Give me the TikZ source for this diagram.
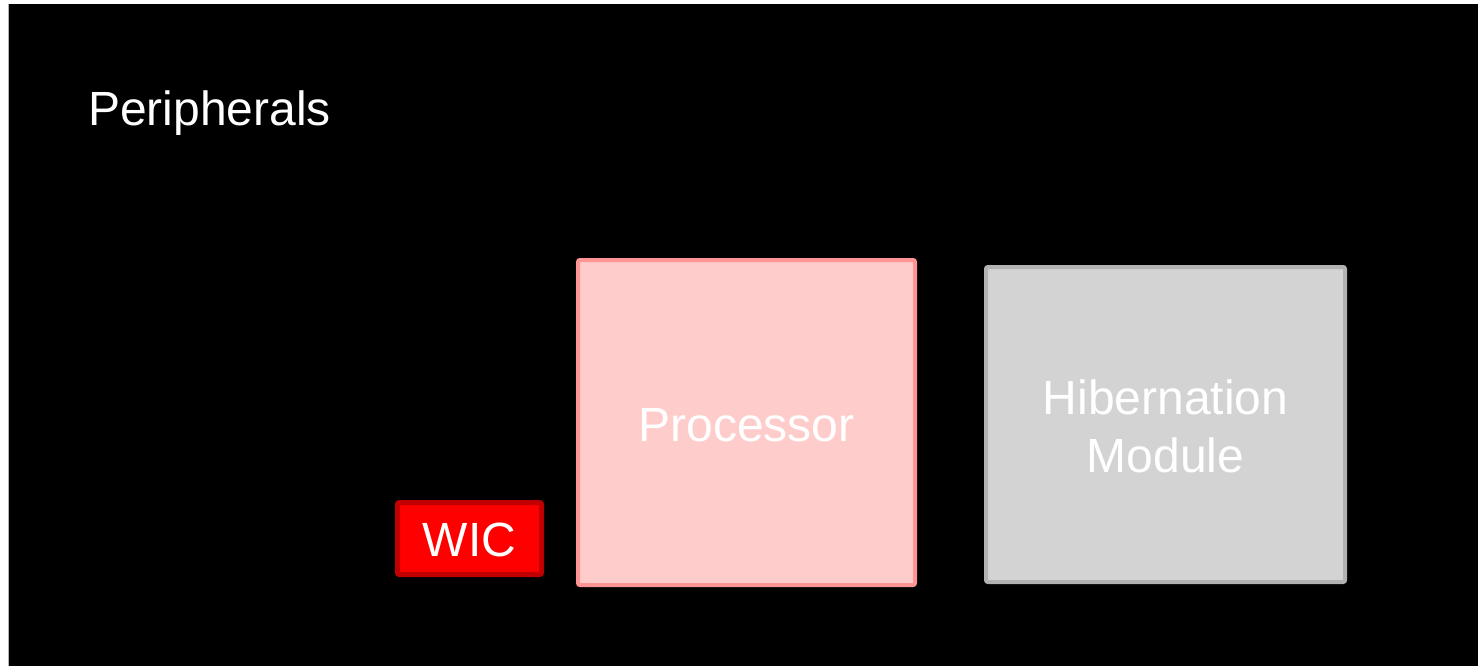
\documentclass[tikz,border=0pt]{standalone}
\usepackage{fontspec}
\setmainfont{Liberation Sans}
\begin{document}
\begin{tikzpicture}[x=1pt,y=-1pt,
  label/.style={font=\fontsize{48}{58}\selectfont, text=white, align=center, inner sep=0pt},
  block/.style={rectangle, rounded corners=2pt, label},
  wicbox/.style={block, fill=wicfill, draw=wicedge, line width=5pt, minimum width=144pt, minimum height=72pt},
  procbox/.style={block, fill=procfill, draw=procedge, line width=4pt, minimum width=337pt, minimum height=325pt},
  hibbox/.style={block, fill=hibfill, draw=hibedge, line width=4pt, minimum width=359pt, minimum height=315pt}]
\definecolor{wicfill}{HTML}{FF0000}
\definecolor{wicedge}{HTML}{C00000}
\definecolor{procfill}{HTML}{FFCCCC}
\definecolor{procedge}{HTML}{FF9494}
\definecolor{hibfill}{HTML}{D3D3D3}
\definecolor{hibedge}{HTML}{B2B2B2}
% page frame
\useasboundingbox (0,0) rectangle (1478,666);
\fill[white] (0,0) rectangle (1478,666);
\fill[black] (8,4) rectangle (1478,666);
\draw[gray!60, line width=1pt] (8.5,4) -- (8.5,666);
% blocks
\node[procbox] (proc) at (746.5,422.5) {};
\node[hibbox] (hib) at (1165.5,424.5) {};
\node[wicbox] (wic) at (469.5,538.5) {};
% texts (y axis points down, so a negative yshift lowers a label)
\node[label, anchor=base west] (periph) at (88,126) {Peripherals};
\node[label] (proctext) at ([yshift=-3pt]proc.center) {Processor};
\node[label] (hibtext) at ([yshift=-2pt]hib.center) {Hibernation\\Module};
\node[label] (wictext) at ([yshift=-1pt]wic.center) {WIC};
\end{tikzpicture}
\end{document}
